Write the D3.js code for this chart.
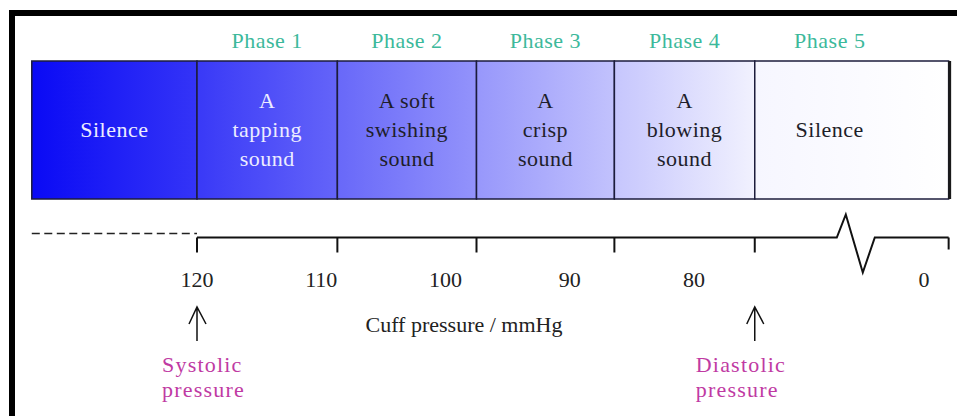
<!DOCTYPE html>
<html>
<head>
<meta charset="utf-8">
<script src="https://cdn.jsdelivr.net/npm/d3@7"></script>
<style>
  body { margin: 0; background: #fff; }
  svg { display: block; }
  text { font-family: "Liberation Serif", "DejaVu Serif", serif; }
</style>
</head>
<body>
<svg id="chart" width="957" height="416"></svg>
<script>
// sounds heard while the cuff deflates (Korotkoff phases)
const boxLabels = [
  ['Silence'],
  ['A', 'tapping', 'sound'],
  ['A soft', 'swishing', 'sound'],
  ['A', 'crisp', 'sound'],
  ['A', 'blowing', 'sound'],
  ['Silence']
];
const phaseLabels = ['', 'Phase 1', 'Phase 2', 'Phase 3', 'Phase 4', 'Phase 5'];
// cuff pressure (mmHg, schematic) at the edges of the boxes
const edgePressures = [133.3, 120, 108.7, 97.5, 86.4, 75.1, -11];
const tickLabels = [120, 110, 100, 90, 80, 0];
const breakAt = 30;
const markers = [
  { value: 120, lines: ['Systolic', 'pressure'], dx: -35 },
  { value: 75.1, lines: ['Diastolic', 'pressure'], dx: -59 }
];

const svg = d3.select('#chart');

// broken axis: 120..75 is spread out, 75..0 is squeezed
const x = d3.scaleLinear()
  .domain([120, 75, 0])
  .range([197, 756, 924]);

const boxTop = 61, boxBottom = 199;
const axisY = 237.5;

// colour ramp blue -> white
const shade = d3.scaleLinear()
  .domain([0, 5.2])
  .range(['#0a0af5', '#ffffff'])
  .clamp(true);

const defs = svg.append('defs');
boxLabels.forEach((d, i) => {
  const g = defs.append('linearGradient')
    .attr('id', 'grad' + i)
    .attr('x1', '0%').attr('x2', '100%');
  g.append('stop').attr('offset', '0%').attr('stop-color', shade(i));
  g.append('stop').attr('offset', '100%').attr('stop-color', shade(i + 0.9));
});

// outer frame (left and top)
svg.append('line')
  .attr('x1', 9).attr('x2', 957).attr('y1', 13).attr('y2', 13)
  .attr('stroke', '#000').attr('stroke-width', 6);
svg.append('line')
  .attr('x1', 12).attr('x2', 12).attr('y1', 10).attr('y2', 416)
  .attr('stroke', '#000').attr('stroke-width', 6);

const boxes = boxLabels.map((lines, i) => {
  const x0 = x(edgePressures[i]);
  const x1 = x(edgePressures[i + 1]);
  const cx = i === boxLabels.length - 1 ? x0 + 75 : (x0 + x1) / 2;
  return { lines, i, x0, x1, cx };
});

const boxG = svg.append('g');
boxG.selectAll('rect')
  .data(boxes)
  .enter()
  .append('rect')
  .attr('x', d => d.x0)
  .attr('y', boxTop)
  .attr('width', d => d.x1 - d.x0)
  .attr('height', boxBottom - boxTop)
  .attr('fill', d => `url(#grad${d.i})`)
  .attr('stroke', '#1c1c3c')
  .attr('stroke-width', 1.5);

// heavier right edge
svg.append('line')
  .attr('x1', x(edgePressures[6]) + 1).attr('x2', x(edgePressures[6]) + 1)
  .attr('y1', boxTop).attr('y2', boxBottom)
  .attr('stroke', '#1a1a1a').attr('stroke-width', 3);

boxG.selectAll('text.sound')
  .data(boxes)
  .enter()
  .append('text')
  .attr('class', 'sound')
  .attr('text-anchor', 'middle')
  .attr('font-size', 22)
  .attr('letter-spacing', 0.5)
  .attr('fill', d => d.i < 2 ? '#ececff' : '#1e1e2a')
  .each(function (d) {
    const n = d.lines.length;
    d3.select(this).selectAll('tspan')
      .data(d.lines)
      .enter()
      .append('tspan')
      .attr('x', d.cx)
      .attr('y', (l, k) => 136.5 + (k - (n - 1) / 2) * 29)
      .text(l => l);
  });

svg.selectAll('text.phase')
  .data(boxes.filter(d => phaseLabels[d.i]))
  .enter()
  .append('text')
  .attr('class', 'phase')
  .attr('x', d => d.cx)
  .attr('y', 48)
  .attr('text-anchor', 'middle')
  .attr('font-size', 22)
  .attr('letter-spacing', 0.5)
  .attr('fill', '#3cb99b')
  .text(d => phaseLabels[d.i]);

// axis: dashed lead-in, then solid line with a break
svg.append('line')
  .attr('x1', x(edgePressures[0])).attr('x2', x(120))
  .attr('y1', axisY - 4).attr('y2', axisY - 4)
  .attr('stroke', '#222').attr('stroke-width', 1.5)
  .attr('stroke-dasharray', '8,4.5');

const xb = x(breakAt);
const axisPts = [
  [x(120), axisY],
  [xb - 20, axisY],
  [xb - 11, axisY - 23],
  [xb + 6, axisY + 35],
  [xb + 18, axisY],
  [x(edgePressures[6]), axisY]
];
svg.append('path')
  .attr('d', d3.line()(axisPts))
  .attr('fill', 'none')
  .attr('stroke', '#111')
  .attr('stroke-width', 2)
  .attr('stroke-linejoin', 'miter');

svg.selectAll('line.tick')
  .data(edgePressures.slice(1))
  .enter()
  .append('line')
  .attr('class', 'tick')
  .attr('x1', d => x(d)).attr('x2', d => x(d))
  .attr('y1', axisY).attr('y2', (d, i, a) => axisY + (i === a.length - 1 ? 12 : 15))
  .attr('stroke', '#111').attr('stroke-width', 2);

svg.selectAll('text.tlab')
  .data(tickLabels)
  .enter()
  .append('text')
  .attr('class', 'tlab')
  .attr('x', d => x(d))
  .attr('y', 287)
  .attr('text-anchor', 'middle')
  .attr('font-size', 22)
  .attr('fill', '#222')
  .text(d => d);

svg.append('text')
  .attr('x', 464)
  .attr('y', 332)
  .attr('text-anchor', 'middle')
  .attr('font-size', 22)
  .attr('fill', '#222')
  .text('Cuff pressure / mmHg');

// systolic / diastolic markers
const mk = svg.selectAll('g.marker')
  .data(markers)
  .enter()
  .append('g')
  .attr('class', 'marker')
  .attr('transform', d => `translate(${x(d.value)},0)`);

mk.append('path')
  .attr('d', 'M0,341 L0,307 M-8,324 L0,307 L9,324')
  .attr('fill', 'none')
  .attr('stroke', '#111')
  .attr('stroke-width', 1.5);

mk.append('text')
  .attr('font-size', 22)
  .attr('letter-spacing', 1.2)
  .attr('fill', '#c03aa3')
  .each(function (d) {
    d3.select(this).selectAll('tspan')
      .data(d.lines)
      .enter()
      .append('tspan')
      .attr('x', d.dx)
      .attr('y', (l, k) => 372 + k * 25)
      .text(l => l);
  });
</script>
</body>
</html>
